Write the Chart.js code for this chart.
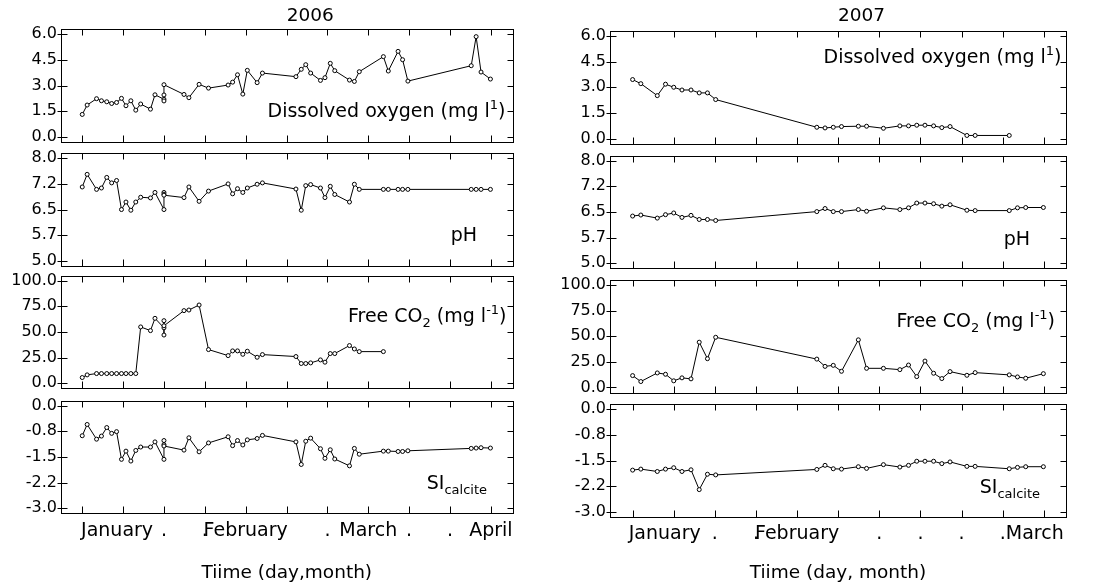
<!DOCTYPE html>
<html><head><meta charset="utf-8">
<script src="https://cdn.jsdelivr.net/npm/chart.js@4.4.0/dist/chart.umd.min.js"></script>
<style>
html,body{margin:0;padding:0;background:#fff;}
body{width:1093px;height:588px;position:relative;overflow:hidden;}
canvas{position:absolute;}
</style></head><body>
<script>
// ---------- data ----------
const xTicks = [0,1,2,3,4,5,6,7,8,9,10];
const xLabels2006 = ['', 'January  ', '.', '.', 'February', '', '.', 'March', '.', '.', 'April'];
const xLabels2007 = ['', 'January   ', '.', '.', 'February', '', '.', '.', '.', '.', 'March   '];

const time2006 = [0, 0.12, 0.35, 0.47, 0.6, 0.72, 0.84, 0.96, 1.07, 1.19, 1.31, 1.43, 1.67, 1.78,
  2.0, 2.0, 2.0, 2.0, 2.49, 2.61, 2.86, 3.09, 3.57, 3.68, 3.8, 3.93, 4.04, 4.28, 4.41,
  5.23, 5.36, 5.47, 5.59, 5.83, 5.94, 6.07, 6.18, 6.54, 6.66, 6.78, 7.37, 7.49, 7.73, 7.84, 7.97,
  9.52, 9.64, 9.76, 9.99];
const oxygen2006 = [1.31, 1.86, 2.23, 2.11, 2.05, 1.95, 2.01, 2.25, 1.82, 2.11, 1.56, 1.92, 1.62, 2.46,
  2.2, 2.1, 2.45, 3.05, 2.48, 2.29, 3.07, 2.85, 3.03, 3.2, 3.63, 2.5, 3.89, 3.17, 3.73,
  3.52, 3.95, 4.22, 3.73, 3.3, 3.46, 4.3, 3.87, 3.32, 3.24, 3.81, 4.69, 3.85, 5.0, 4.51, 3.26,
  4.16, 5.86, 3.79, 3.38];
const ph2006 = [7.16, 7.53, 7.09, 7.13, 7.44, 7.28, 7.35, 6.5, 6.72, 6.48, 6.72, 6.86, 6.84, 7.0,
  6.5, 7.0, 6.95, 6.92, 6.85, 7.16, 6.74, 7.04, 7.25, 6.96, 7.11, 7.0, 7.13, 7.24, 7.28,
  7.1, 6.48, 7.2, 7.23, 7.13, 6.85, 7.18, 6.94, 6.72, 7.24, 7.09, 7.09, 7.09, 7.09, 7.09, 7.09,
  7.09, 7.09, 7.09, 7.09];
const co2_2006 = [5.5, 8.1, 9.4, 9.4, 9.4, 9.4, 9.4, 9.4, 9.4, 9.4, 9.4, 54.9, 51.3, 63.3,
  54, 47, 61, 56, 70.8, 71.4, 76.3, 32.8, 26.9, 31.5, 31.5, 28.2, 31.2, 25.3, 27.9,
  26, 19.2, 19.2, 19.8, 22.7, 20.5, 28.9, 28.9, 36.7, 33.4, 30.8, 30.8];
const si2006 = [-0.88, -0.55, -0.98, -0.89, -0.64, -0.81, -0.76, -1.57, -1.33, -1.62, -1.31, -1.21, -1.21, -1.06,
  -1.57, -1.02, -1.14, -1.18, -1.3, -0.94, -1.35, -1.09, -0.91, -1.17, -1.02, -1.15, -1.0, -0.96, -0.87,
  -1.06, -1.72, -1.04, -0.95, -1.26, -1.54, -1.29, -1.56, -1.76, -1.25, -1.42, -1.33, -1.33, -1.34, -1.34, -1.32,
  -1.25, -1.24, -1.23, -1.24];

const time2007 = [0, 0.2, 0.6, 0.8, 1.0, 1.2, 1.42, 1.62, 1.82, 2.02, 4.48, 4.68, 4.88, 5.08, 5.49,
  5.69, 6.1, 6.5, 6.71, 6.91, 7.11, 7.32, 7.52, 7.72, 8.13, 8.33, 9.16, 9.36, 9.56, 9.99];
const oxygen2007 = [3.45, 3.21, 2.51, 3.18, 3.0, 2.84, 2.84, 2.67, 2.67, 2.28, 0.66, 0.62, 0.66, 0.7, 0.72,
  0.72, 0.6, 0.74, 0.74, 0.78, 0.78, 0.74, 0.64, 0.7, 0.18, 0.18, 0.18];
const ph2007 = [6.38, 6.41, 6.32, 6.42, 6.47, 6.34, 6.4, 6.28, 6.28, 6.25, 6.51, 6.6, 6.51, 6.51, 6.57,
  6.52, 6.62, 6.57, 6.62, 6.76, 6.76, 6.74, 6.67, 6.71, 6.55, 6.54, 6.54, 6.62, 6.63, 6.63];
const co2_2007 = [11.6, 5.8, 14.2, 12.9, 6.5, 9.4, 8.4, 44.2, 28.1, 49.0, 27.7, 20.6, 21.6, 15.8, 46.5,
  18.7, 18.7, 17.4, 21.9, 10.6, 25.8, 13.9, 8.7, 15.5, 11.9, 14.5, 12.3, 10.3, 9.0, 13.5];
const si2007 = [-1.78, -1.75, -1.82, -1.75, -1.71, -1.82, -1.77, -2.35, -1.9, -1.92, -1.76, -1.64, -1.74, -1.75, -1.68,
  -1.73, -1.62, -1.69, -1.64, -1.52, -1.52, -1.52, -1.59, -1.54, -1.67, -1.67, -1.74, -1.7, -1.68, -1.68];

const oxygenTicks = [0, 1.5, 3, 4.5, 6];
const oxygenTickLabels = ['0.0', '1.5', '3.0', '4.5', '6.0'];
const phTicks = [5, 5.75, 6.5, 7.25, 8];
const phTickLabels = ['5.0', '5.7', '6.5', '7.2', '8.0'];
const co2Ticks = [0, 25, 50, 75, 100];
const co2TickLabels = ['0.0', '25.0', '50.0', '75.0', '100.0'];
const siTicks = [-3, -2.25, -1.5, -0.75, 0];
const siTickLabels = ['-3.0', '-2.2', '-1.5', '-0.8', '0.0'];

// ---------- layout / style ----------
const FONT = "'DejaVu Sans', sans-serif";
Chart.defaults.font.family = FONT;
Chart.defaults.color = '#000';

const columns = [
  {left: 0, width: 545, axisW: 61, padR: 32.5, tops: [29.3, 153.3, 275.7, 400.7], xmin: -0.52, xmax: 10.53,
   xLabels: xLabels2006, time: time2006, year: '2006', xTitle: 'Tiime (day,month)'},
  {left: 545, width: 548, axisW: 65, padR: 27, tops: [31, 155.7, 280, 404.3], xmin: -0.55, xmax: 10.54,
   xLabels: xLabels2007, time: time2007, year: '2007', xTitle: 'Tiime (day, month)'}
];
const PANEL_H = 112.5;

const rows = [
  {key: 'oxygen', ticks: oxygenTicks, labels: oxygenTickLabels, min: -0.29, max: 6.29,
   text: [{t: 'Dissolved oxygen (mg l'}, {t: '1', k: 'sup'}, {t: ')'}]},
  {key: 'ph', ticks: phTicks, labels: phTickLabels, min: 4.855, max: 8.145,
   text: [{t: 'pH'}]},
  {key: 'co2', ticks: co2Ticks, labels: co2TickLabels, min: -4.9, max: 104.9,
   text: [{t: 'Free CO'}, {t: '2', k: 'sub'}, {t: ' (mg l'}, {t: '-1', k: 'sup'}, {t: ')'}]},
  {key: 'si', ticks: siTicks, labels: siTickLabels, min: -3.145, max: 0.145,
   text: [{t: 'SI'}, {t: 'calcite', k: 'sub'}]}
];
const seriesByCol = [
  {oxygen: oxygen2006, ph: ph2006, co2: co2_2006, si: si2006},
  {oxygen: oxygen2007, ph: ph2007, co2: co2_2007, si: si2007}
];
// annotation placement: [dxFromRight, dyFromTop]
const textPos = [
  [[7, 88], [35.5, 88], [6, 46], [25.5, 88.6]],
  [[4.5, 32], [36, 89], [11, 46.7], [26, 88.7]]
];

function drawRich(ctx, segs, rightX, baseY) {
  const fontFor = k => (k ? '13px ' : '19px ') + FONT;
  let total = 0;
  segs.forEach(s => { ctx.font = fontFor(s.k); total += ctx.measureText(s.t).width; });
  let x = rightX - total;
  ctx.textAlign = 'left';
  ctx.textBaseline = 'alphabetic';
  segs.forEach(s => {
    ctx.font = fontFor(s.k);
    const dy = s.k === 'sup' ? -8 : (s.k === 'sub' ? 5 : 0);
    ctx.fillText(s.t, x, baseY + dy);
    x += ctx.measureText(s.t).width;
  });
}

const framePlugin = {
  id: 'frame',
  afterDraw(chart, args, o) {
    const {ctx, chartArea: a} = chart;
    const xs = chart.scales.x, ys = chart.scales.y;
    ctx.save();
    ctx.strokeStyle = '#000';
    ctx.fillStyle = '#000';
    ctx.lineWidth = 1;
    const L = Math.round(a.left) + 0.5, R = Math.round(a.right) + 0.5;
    const T = Math.round(a.top) + 0.5, B = Math.round(a.bottom) + 0.5;
    ctx.strokeRect(L, T, R - L, B - T);
    ctx.beginPath();
    xs.ticks.forEach(t => {
      const px = Math.round(xs.getPixelForValue(t.value)) + 0.5;
      ctx.moveTo(px, T); ctx.lineTo(px, T + 6);
      ctx.moveTo(px, B); ctx.lineTo(px, B - 7);
    });
    ys.ticks.forEach(t => {
      const py = Math.round(ys.getPixelForValue(t.value)) + 0.5;
      ctx.moveTo(L - 4, py); ctx.lineTo(L + 6, py);
      ctx.moveTo(R - 6, py); ctx.lineTo(R, py);
    });
    ctx.stroke();
    drawRich(ctx, o.text, a.right - o.dx, a.top + o.dy);
    if (o.year) {
      ctx.font = '18.5px ' + FONT;
      ctx.textAlign = 'center';
      ctx.textBaseline = 'alphabetic';
      ctx.fillText(o.year, (a.left + a.right) / 2 + 23.5, 21);
    }
    ctx.restore();
  }
};

columns.forEach((col, c) => {
  rows.forEach((row, r) => {
    const isTop = r === 0, isBottom = r === rows.length - 1;
    const panelTop = col.tops[r];
    const canvasTop = isTop ? 0 : Math.floor(panelTop - 6);
    const padTop = panelTop - canvasTop;
    const h = isBottom ? 588 - canvasTop : Math.ceil(padTop + PANEL_H + 6);
    const padBottom = isBottom ? 0 : h - padTop - PANEL_H;
    const xAxisH = isBottom ? h - padTop - PANEL_H : 0;

    const cv = document.createElement('canvas');
    cv.width = col.width; cv.height = h;
    cv.style.left = col.left + 'px'; cv.style.top = canvasTop + 'px';
    cv.style.width = col.width + 'px'; cv.style.height = h + 'px';
    document.body.appendChild(cv);

    const ys = seriesByCol[c][row.key];
    const pts = ys.map((v, i) => ({x: col.time[i], y: v}));

    new Chart(cv, {
      type: 'line',
      data: {datasets: [{
        data: pts, borderColor: '#000', borderWidth: 1, tension: 0, fill: false,
        pointRadius: 2, pointBorderWidth: 1, pointBackgroundColor: '#fff', pointBorderColor: '#000',
        clip: 8
      }]},
      options: {
        responsive: false, animation: false, events: [], devicePixelRatio: 1,
        layout: {padding: {top: padTop, bottom: padBottom, left: 0, right: col.padR}, autoPadding: false},
        plugins: {
          legend: {display: false}, tooltip: {enabled: false},
          frame: {text: row.text, dx: textPos[c][r][0], dy: textPos[c][r][1], year: isTop ? col.year : null}
        },
        scales: {
          x: {
            type: 'linear', min: col.xmin, max: col.xmax,
            afterBuildTicks: s => { s.ticks = xTicks.map(v => ({value: v})); },
            grid: {display: false, drawTicks: false}, border: {display: false},
            ticks: {display: isBottom, autoSkip: false, maxRotation: 0, minRotation: 0, padding: 6,
                    font: {size: 19}, color: '#000', callback: (v, i) => col.xLabels[i]},
            title: {display: isBottom, text: col.xTitle, color: '#000', font: {size: 18.5},
                    padding: {top: 0, bottom: 4}},
            afterFit: s => { s.height = xAxisH; s.paddingLeft = 0; s.paddingRight = 0; }
          },
          y: {
            type: 'linear', min: row.min, max: row.max,
            afterBuildTicks: s => { s.ticks = row.ticks.map(v => ({value: v})); },
            grid: {display: false, drawTicks: false}, border: {display: false},
            ticks: {autoSkip: false, padding: 4, font: {size: 16}, color: '#000',
                    callback: (v, i) => row.labels[i]},
            afterFit: s => { s.width = col.axisW; s.paddingTop = 0; s.paddingBottom = 0; }
          }
        }
      },
      plugins: [framePlugin]
    });
  });
});
</script>
</body></html>
